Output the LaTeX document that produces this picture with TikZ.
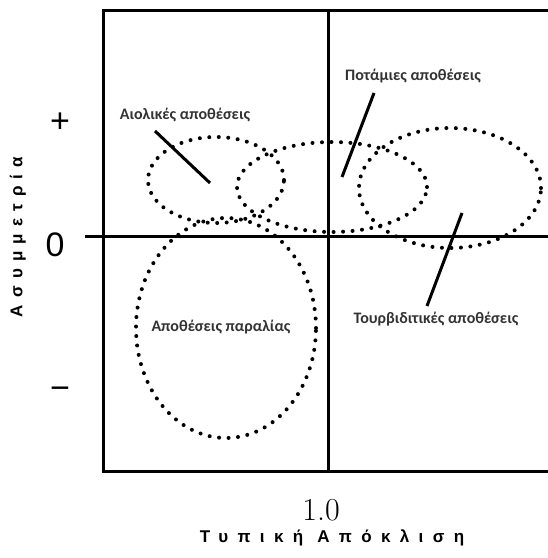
\documentclass[tikz,border=0pt]{standalone}
\usepackage{fontspec}
\newfontfamily\labelfont{Carlito}
\newfontfamily\axisfont{Liberation Sans}
\tikzset{frameline/.style={line width=3pt}}
\tikzset{leader/.style={line width=3pt}}
\tikzset{deposit/.style={line width=4pt, line cap=round, dash pattern=on 0pt off 9.5pt}}
\tikzset{env/.style={font=\labelfont\bfseries\fontsize{16}{18}\selectfont, text=black!80, inner sep=0pt}}
\tikzset{sign/.style={font=\axisfont\fontsize{34}{36}\selectfont, inner sep=0pt}}
\tikzset{axistitle/.style={font=\axisfont\bfseries\fontsize{17}{19}\selectfont\addfontfeature{LetterSpace=#1}, inner sep=0pt}}
\tikzset{axistitle/.default=42}
\begin{document}
\begin{tikzpicture}[x=1pt, y=-1pt]
\useasboundingbox (0,0) rectangle (548,558);
\draw[frameline] (548,10) -- (103,10) -- (103,471) -- (548,471);
\coordinate (zero left) at (85,236);
\coordinate (zero right) at (548,236);
\coordinate (mid top) at (328,10);
\coordinate (mid bottom) at (328,471);
\draw[frameline] (zero left) -- (zero right);
\draw[frameline] (mid top) -- (mid bottom);
\draw[deposit] (216,180) ellipse [x radius=68pt, y radius=43pt];
\draw[deposit] (332,187) ellipse [x radius=95pt, y radius=45pt];
\draw[deposit] (450,188) ellipse [x radius=91pt, y radius=60pt];
\draw[deposit] (226,328) ellipse [x radius=90pt, y radius=110pt];
\node[env] (aeolian) at (185,115) {Αιολικές αποθέσεις};
\node[env] (fluvial) at (413,76) {Ποτάμιες αποθέσεις};
\node[env] (turbidite) at (436,319) {Τουρβιδιτικές αποθέσεις};
\node[env] (beach) at (221,327) {Αποθέσεις παραλίας};
\coordinate (aeolian from) at (155,131);
\coordinate (aeolian to) at (210,183);
\coordinate (fluvial from) at (374,93);
\coordinate (fluvial to) at (342,177);
\coordinate (turbidite from) at (462,213);
\coordinate (turbidite to) at (427,306);
\draw[leader] (aeolian from) -- (aeolian to);
\draw[leader] (fluvial from) -- (fluvial to);
\draw[leader] (turbidite from) -- (turbidite to);
\node[sign] (plus) at (60,123) {+};
\node[sign] (nought) at (55,245) {0};
\node[sign] (minus) at (60,393) {−};
\node[font=\fontsize{32}{34}\selectfont, inner sep=0pt] (unit) at (321,510) {1.0};
\node[axistitle=55] (xtitle) at (332,538) {Τυπική Απόκλιση};
\node[axistitle, rotate=90] (ytitle) at (18,237) {Ασυμμετρία};
\end{tikzpicture}
\end{document}
